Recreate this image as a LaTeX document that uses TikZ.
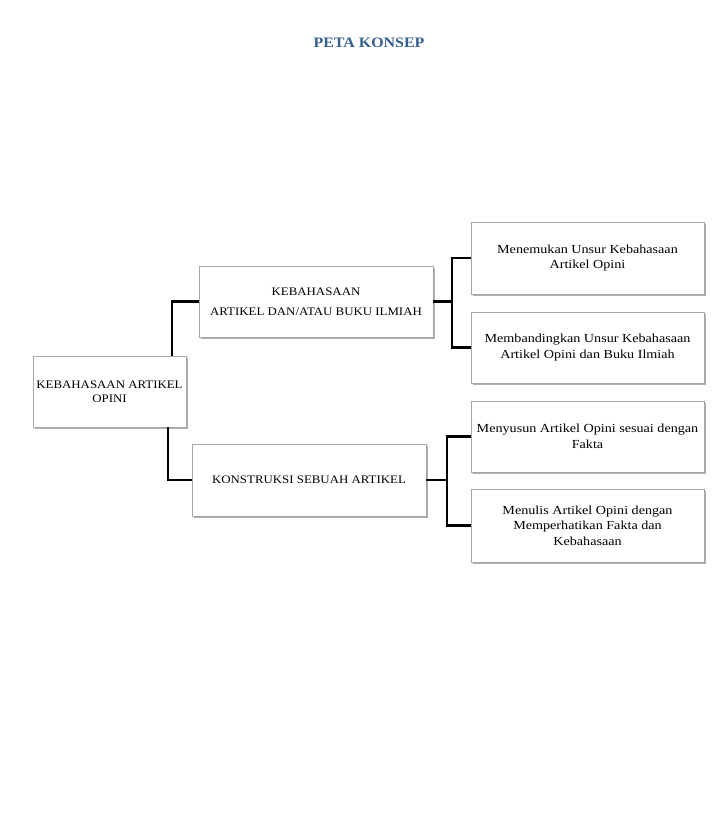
\documentclass[tikz,border=0pt]{standalone}
\usepackage{fontspec}
\setmainfont{Liberation Serif}
\newfontfamily\capsfont[FakeStretch=1.12]{Liberation Serif}
\newfontfamily\lowfont[FakeStretch=1.15]{Liberation Serif}
\newfontfamily\titlefont[FakeStretch=1.1]{Liberation Serif}
\usetikzlibrary{shadows}
\definecolor{titleblue}{HTML}{365F91}
\definecolor{boxline}{HTML}{A6A6A6}
\definecolor{shadowgray}{HTML}{B0B0B0}
\tikzset{
  box/.style={draw=boxline, line width=0.8pt, fill=white, rectangle, align=center,
    inner sep=2pt,
    drop shadow={shadow xshift=1.5pt, shadow yshift=-1.5pt, fill=shadowgray, opacity=1}},
  capsbox/.style={box, font=\capsfont\fontsize{11.5}{14.5}\selectfont},
  lowbox/.style={box, font=\lowfont\fontsize{12.3}{15.5}\selectfont},
  conn/.style={draw=black, line width=2.3pt}
}
\begin{document}
\begin{tikzpicture}[x=1pt,y=-1pt]
\useasboundingbox (0,0) rectangle (727,817);
\node[font=\titlefont\fontsize{14.5}{16}\selectfont\bfseries, text=titleblue] (title) at (369,43) {PETA KONSEP};

\node[capsbox, minimum width=153pt, minimum height=71pt] (root) at (109.5,391.5) {KEBAHASAAN ARTIKEL\\OPINI};
\node[capsbox, minimum width=234pt, minimum height=71pt] (k1) at (316,301.5) {KEBAHASAAN\\[5pt]ARTIKEL DAN/ATAU BUKU ILMIAH};
\node[capsbox, minimum width=234pt, minimum height=72pt] (k2) at (309,480) {KONSTRUKSI SEBUAH ARTIKEL};
\node[lowbox, minimum width=233pt, minimum height=72pt] (r1) at (587.5,258) {Menemukan Unsur Kebahasaan\\Artikel Opini};
\node[lowbox, minimum width=233pt, minimum height=71pt] (r2) at (587.5,347.5) {Membandingkan Unsur Kebahasaan\\Artikel Opini dan Buku Ilmiah};
\node[lowbox, minimum width=233pt, minimum height=71pt] (r3) at (587.5,436.5) {Menyusun Artikel Opini sesuai dengan\\Fakta};
\node[lowbox, minimum width=233pt, minimum height=73pt] (r4) at (587.5,525.5) {Menulis Artikel Opini dengan\\Memperhatikan Fakta dan\\Kebahasaan};

\coordinate (rt) at (172,356);
\coordinate (rb) at (168,427);
\coordinate (b1) at (452,302);
\coordinate (b2) at (447,481);

\draw[conn] (k1.west) -| (rt);
\draw[conn] (k2.west) -| (rb);
\draw[conn] (k1.east) -- (k1.east -| b1);
\draw[conn] (r1.west) -| (b1) |- (r2.west);
\draw[conn] (k2.east) -- (k2.east -| b2);
\draw[conn] (r3.west) -| (b2) |- (r4.west);
\end{tikzpicture}
\end{document}
